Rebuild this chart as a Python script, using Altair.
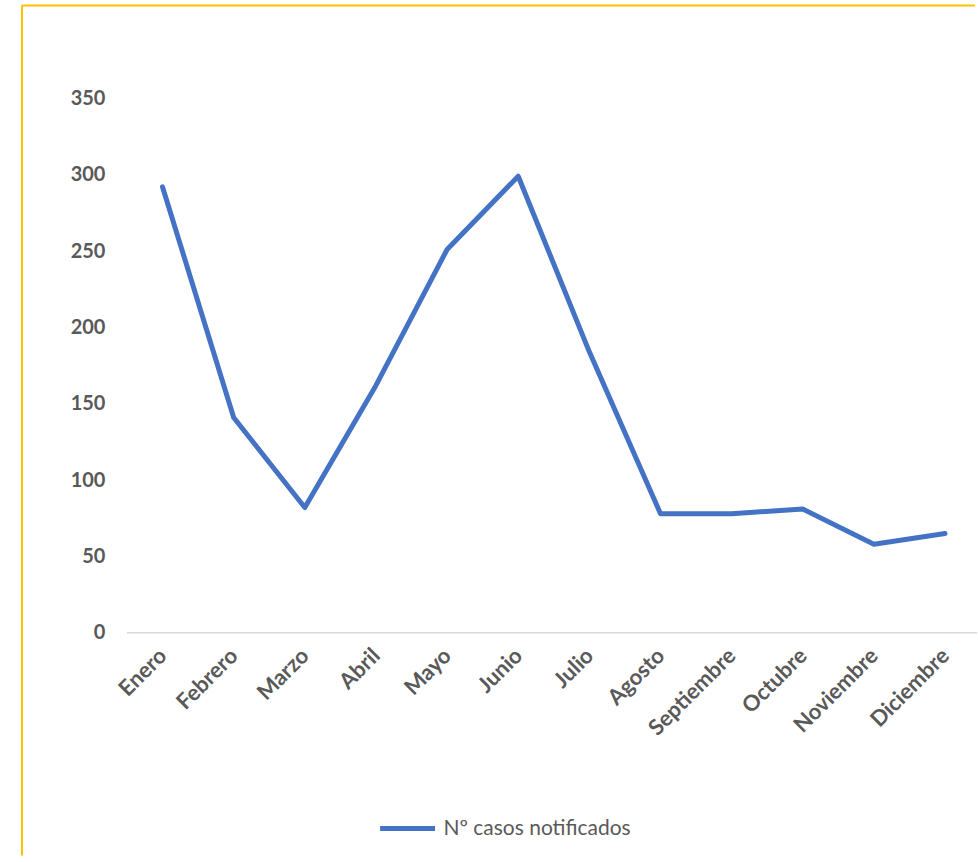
import altair as alt
import pandas as pd

# Monthly notified cases
meses = ["Enero", "Febrero", "Marzo", "Abril", "Mayo", "Junio", "Julio",
         "Agosto", "Septiembre", "Octubre", "Noviembre", "Diciembre"]
casos = [292, 141, 82, 162, 251, 299, 184, 78, 78, 81, 58, 65]
serie = "Nº casos notificados"
y_ticks = [0, 50, 100, 150, 200, 250, 300, 350]

df = pd.DataFrame({"mes": meses, "casos": casos, "serie": [serie] * len(meses)})

GRAY = "#595959"
BLUE = "#4472C4"
GOLD = "#FFC000"
FONT = "Lato"

W, H = 851, 535

line = alt.Chart(df).mark_line(strokeWidth=5, strokeCap="round", strokeJoin="round").encode(
    x=alt.X("mes:N", sort=meses, title=None,
            scale=alt.Scale(range=[35.7, 819], padding=0),
            axis=alt.Axis(labelAngle=-45, labelAlign="right", labelBaseline="middle",
                          labelPadding=19, labelFontSize=22, labelFontWeight="bold",
                          labelColor=GRAY, labelFont=FONT, ticks=False,
                          domain=False, grid=False)),
    y=alt.Y("casos:Q", title=None,
            scale=alt.Scale(domain=[0, 350], nice=False),
            axis=alt.Axis(values=y_ticks, labelFontSize=20, labelFontWeight="bold",
                          labelColor=GRAY, labelFont=FONT, labelPadding=22,
                          domain=False, ticks=False, grid=False)),
    color=alt.Color("serie:N", title=None,
                    scale=alt.Scale(range=[BLUE]),
                    legend=alt.Legend(orient="none", legendX=251, legendY=701,
                                      padding=0, symbolType="stroke", symbolSize=3025,
                                      symbolStrokeWidth=5, labelFontSize=21,
                                      labelColor=GRAY, labelFont=FONT, labelOffset=6,
                                      labelLimit=0)),
)

# Baseline at zero across the whole plot width
baseline = alt.Chart(alt.Data(values=[{"v": 0}])).mark_rule(
    color="#D9D9D9", strokeWidth=1.5
).encode(y=alt.Y("v:Q"), x=alt.value(0), x2=alt.value(W))

# Outer frame: top and left edges of the chart border
frame_data = alt.Data(values=[{}])
frame_top = alt.Chart(frame_data).mark_rule(color=GOLD, strokeWidth=2).encode(
    x=alt.value(-105), x2=alt.value(W - 2), y=alt.value(-93)
)
frame_left = alt.Chart(frame_data).mark_rule(color=GOLD, strokeWidth=2).encode(
    x=alt.value(-105), y=alt.value(-93), y2=alt.value(758)
)

chart = alt.layer(frame_top, frame_left, baseline, line).properties(
    width=W, height=H,
    padding={"left": 21, "top": 4, "right": 0, "bottom": 0},
    background="white",
).configure_view(stroke=None)

chart.save("out.html", embed_options={"renderer": "svg", "actions": False})
